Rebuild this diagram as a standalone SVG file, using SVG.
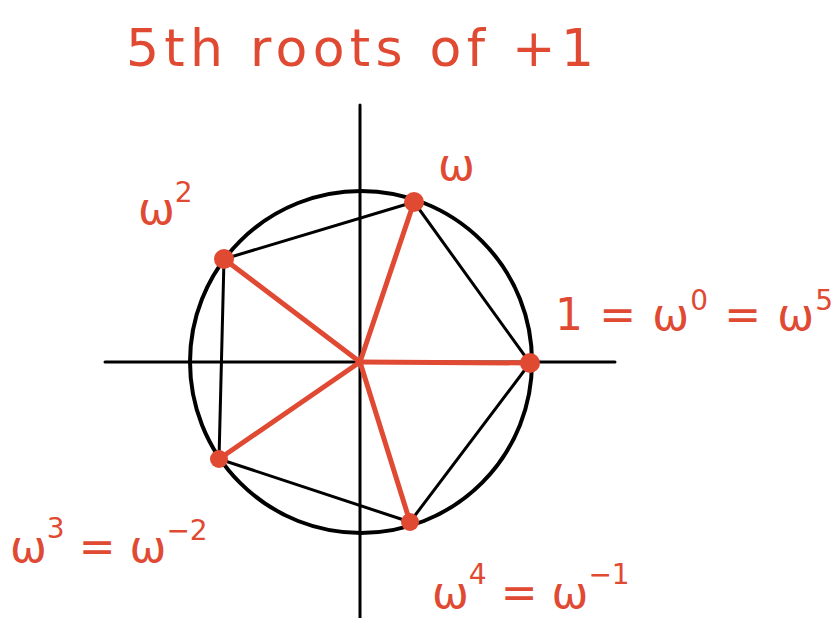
<svg xmlns="http://www.w3.org/2000/svg" width="838" height="618" viewBox="0 0 838 618">
<style>
.ax{stroke:#000;stroke-width:3;fill:none;stroke-linecap:round}
.circ{stroke:#000;stroke-width:4;fill:none}
.poly{stroke:#000;stroke-width:3;fill:none;stroke-linecap:round;stroke-linejoin:round}
.spoke{stroke:#e04a33;stroke-width:5;stroke-linecap:round}
.dot{fill:#e04a33}
.lbl{fill:#e04a33;font-family:"DejaVu Sans","Liberation Sans",sans-serif;font-weight:normal}
</style>
<rect width="838" height="618" fill="#fff"/>
<g id="title"><text class="lbl" x="126" y="66" font-size="52" textLength="468" lengthAdjust="spacing">5th roots of +1</text></g>
<g id="axes">
<line class="ax" x1="360" y1="105" x2="360" y2="618"/>
<line class="ax" x1="105" y1="362" x2="615" y2="362"/>
<circle class="circ" cx="361" cy="362" r="171"/>
</g>
<g id="connectors">
<polygon class="poly" points="530,363 414,202 224,259 219,459 410,522"/>
<line class="spoke" x1="360" y1="362" x2="530" y2="363"/>
<line class="spoke" x1="360" y1="362" x2="414" y2="202"/>
<line class="spoke" x1="360" y1="362" x2="224" y2="259"/>
<line class="spoke" x1="360" y1="362" x2="219" y2="459"/>
<line class="spoke" x1="360" y1="362" x2="410" y2="522"/>
</g>
<g id="w0"><circle class="dot" cx="530" cy="363" r="10"/><text class="lbl" x="555" y="330" font-size="44" textLength="278" lengthAdjust="spacing">1 = ω<tspan font-size="28" dy="-20">0</tspan><tspan dy="20"> = ω</tspan><tspan font-size="28" dy="-20">5</tspan></text></g>
<g id="w1"><circle class="dot" cx="414" cy="202" r="10"/><text class="lbl" x="438" y="180" font-size="44">ω</text></g>
<g id="w2"><circle class="dot" cx="224" cy="259" r="10"/><text class="lbl" x="138" y="224" font-size="44">ω<tspan font-size="28" dy="-22">2</tspan></text></g>
<g id="w3"><circle class="dot" cx="219" cy="459" r="9"/><text class="lbl" x="10" y="562" font-size="44">ω<tspan font-size="28" dy="-24">3</tspan><tspan dy="24"> = ω</tspan><tspan font-size="28" dy="-22">−2</tspan></text></g>
<g id="w4"><circle class="dot" cx="410" cy="522" r="9"/><text class="lbl" x="432" y="608" font-size="44">ω<tspan font-size="28" dy="-24">4</tspan><tspan dy="24"> = ω</tspan><tspan font-size="28" dy="-24">−1</tspan></text></g>
</svg>
